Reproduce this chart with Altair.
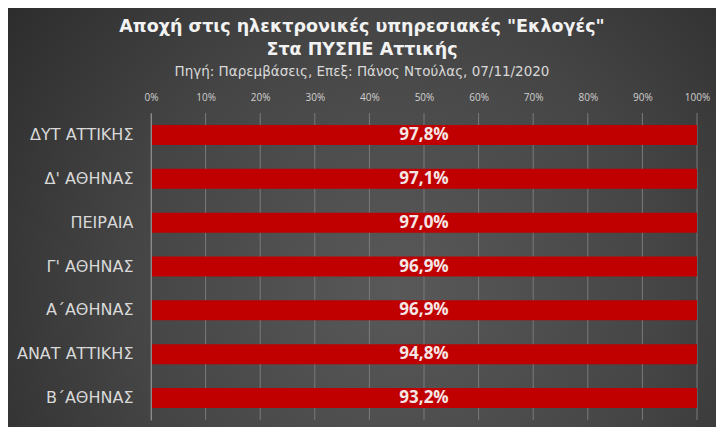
import altair as alt
import pandas as pd

regions = ["ΔΥΤ ΑΤΤΙΚΗΣ", "Δ' ΑΘΗΝΑΣ", "ΠΕΙΡΑΙΑ", "Γ' ΑΘΗΝΑΣ", "Α΄ΑΘΗΝΑΣ", "ΑΝΑΤ ΑΤΤΙΚΗΣ", "Β΄ΑΘΗΝΑΣ"]
abstention = [97.8, 97.1, 97.0, 96.9, 96.9, 94.8, 93.2]
labels = ["97,8%", "97,1%", "97,0%", "96,9%", "96,9%", "94,8%", "93,2%"]
grid_ticks = [i / 10 for i in range(11)]

df = pd.DataFrame({"region": regions, "value": abstention, "label": labels})
gdf = pd.DataFrame({"tick": grid_ticks})

FONT = "DejaVu Sans"

bg = alt.Chart(pd.DataFrame({"a": [0]})).mark_rect(
    color=alt.Gradient(
        gradient="radial",
        x1=0.55, y1=0.6, r1=0.0,
        x2=0.55, y2=0.6, r2=0.75,
        stops=[alt.GradientStop(color="#595959", offset=0),
               alt.GradientStop(color="#454545", offset=0.5),
               alt.GradientStop(color="#272727", offset=1)],
    )
).encode(
    x=alt.value(-143), x2=alt.value(565), y=alt.value(-105), y2=alt.value(314)
)

grid = alt.Chart(gdf).mark_rule(color="#7a7a7a", strokeWidth=1).encode(
    x=alt.X("tick:Q"), y=alt.value(0), y2=alt.value(307)
)

y_enc = alt.Y("region:N", sort=None, title=None,
              scale=alt.Scale(paddingInner=0.54, paddingOuter=0.27),
              axis=alt.Axis(labelColor="#d9d9d9", labelFontSize=16, labelFont=FONT,
                            labelPadding=18, ticks=False, domainColor="#8a8a8a",
                            domainWidth=1, grid=False, zindex=1))
x_enc = alt.X("value:Q", stack="normalize", title=None,
              scale=alt.Scale(domain=[0, 1]),
              axis=alt.Axis(orient="top", format="%", values=grid_ticks,
                            labelColor="#d0d0d0", labelFontSize=10, labelFont="Open Sans",
                            labelPadding=11, labelFlush=False, ticks=False, domain=False,
                            grid=False, zindex=1))

bars = alt.Chart(df).mark_bar(size=20, color="#c00000").encode(x=x_enc, y=y_enc)

text = alt.Chart(df).mark_text(fontSize=17, fontWeight="bold", color="#f5e6e6",
                               font="Open Sans", baseline="middle").encode(
    x=alt.X(datum=0.5), y=alt.Y("region:N", sort=None), text="label:N"
)

chart = alt.layer(bg, grid, bars, text).properties(
    width=546, height=307,
    autosize=alt.AutoSizeParams(type="none"),
    padding={"left": 143, "top": 105, "right": 19, "bottom": 7},
    title=alt.Title(
        text=["Αποχή  στις  ηλεκτρονικές  υπηρεσιακές  \"Εκλογές\"", "Στα  ΠΥΣΠΕ  Αττικής"],
        subtitle="Πηγή: Παρεμβάσεις, Επεξ: Πάνος Ντούλας, 07/11/2020",
        color="#f2f2f2", fontSize=17.5, fontWeight="bold", font=FONT, lineHeight=23,
        subtitleColor="#d9d9d9", subtitleFontSize=13.5, subtitleFont=FONT,
        subtitlePadding=6, anchor="middle", frame="group", dx=-62, offset=-70,
    ),
).configure(background="#333333").configure_view(stroke=None)

chart.save("out.html", embed_options={"renderer": "svg", "actions": False})
